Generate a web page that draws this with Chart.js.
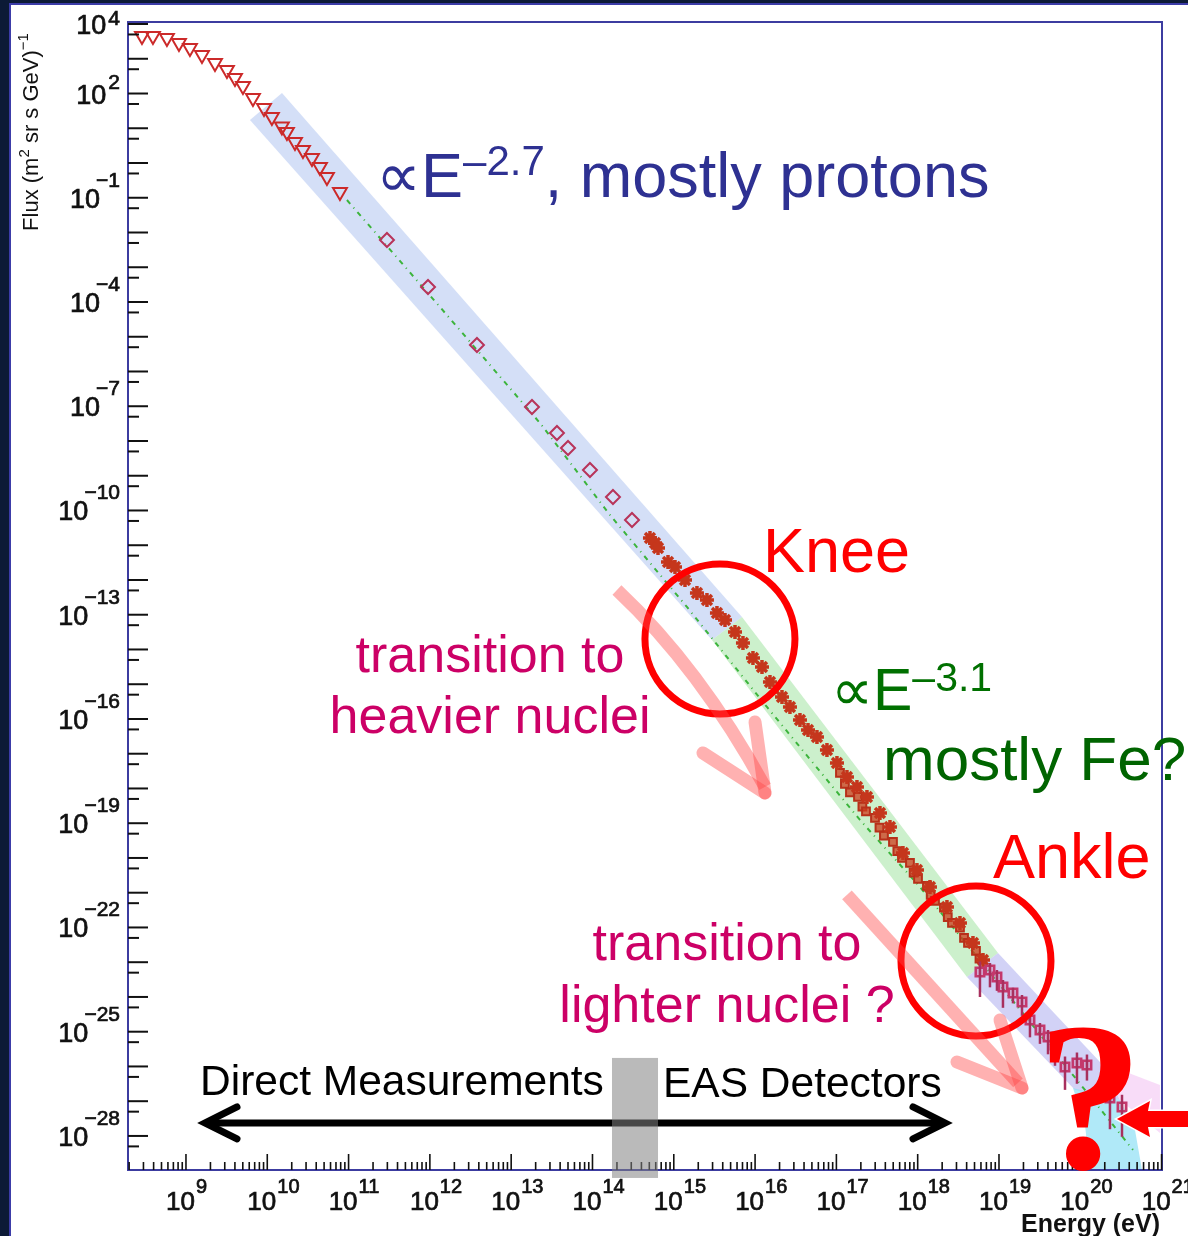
<!DOCTYPE html>
<html lang="en">
<head>
<meta charset="UTF-8">
<title>Cosmic ray energy spectrum</title>
<script src="https://cdn.jsdelivr.net/npm/chart.js"></script>
<style>
    html, body { margin: 0; padding: 0; }
    body { width: 1188px; height: 1236px; background: #0c1a36; position: relative; overflow: hidden; }
    #panel { position: absolute; left: 9px; top: 3px; right: 0; bottom: 0; background: #fff;
             border-left: 2px solid #3c3ca8; border-top: 2px solid #3c3ca8; }
    #chart { position: absolute; left: 0; top: 0; }
</style>
</head>
<body>
<div id="panel"></div>
<canvas id="chart" width="1188" height="1236"></canvas>
<script>
    // values are log10: E in eV, flux in (m^2 sr s GeV)^-1
    const triLogE = [8.459, 8.594, 8.766, 8.914, 9.049, 9.197, 9.357, 9.504, 9.603, 9.701, 9.824, 9.960, 10.057, 10.180, 10.242, 10.341, 10.439, 10.550, 10.648, 10.734, 10.894];
    const triLogF = [3.655, 3.655, 3.597, 3.453, 3.309, 3.108, 2.878, 2.676, 2.446, 2.216, 1.871, 1.583, 1.324, 1.050, 0.892, 0.604, 0.374, 0.144, -0.115, -0.403, -0.835];

    const diaLogE = [11.472, 11.977, 12.579, 13.256, 13.563, 13.699, 13.969, 14.252, 14.486];
    const diaLogF = [-2.216, -3.568, -5.237, -7.022, -7.770, -8.201, -8.835, -9.612, -10.273];

    const starLogE = [14.707, 14.769, 14.806, 14.929, 15.015, 15.138, 15.285, 15.408, 15.531, 15.630, 15.753, 15.851, 15.974, 16.085, 16.183, 16.331, 16.429, 16.552, 16.651, 16.761, 16.884, 17.007, 17.130, 17.253, 17.376, 17.536, 17.659, 17.819, 17.991, 18.151, 18.360, 18.520, 18.680, 18.803];
    const starLogF = [-10.791, -10.935, -11.079, -11.482, -11.626, -12.000, -12.374, -12.576, -12.950, -13.151, -13.496, -13.813, -14.245, -14.504, -14.935, -15.367, -15.655, -16.029, -16.317, -16.518, -16.892, -17.266, -17.669, -17.957, -18.245, -18.705, -19.108, -19.856, -20.345, -20.835, -21.410, -21.871, -22.446, -22.935];

    const boxLogE = [17.044, 17.105, 17.167, 17.266, 17.320, 17.364, 17.475, 17.530, 17.585, 17.696, 17.750, 17.807, 17.905, 17.950, 18.004, 18.114, 18.160, 18.213, 18.323, 18.370, 18.422, 18.520, 18.570, 18.619, 18.717, 18.760];
    const boxLogF = [-17.554, -17.870, -18.115, -18.245, -18.520, -18.662, -18.849, -19.130, -19.355, -19.540, -19.800, -19.994, -20.144, -20.420, -20.604, -20.806, -21.060, -21.237, -21.430, -21.700, -21.871, -22.003, -22.300, -22.446, -22.676, -22.900];

    const ankleLogE = [18.766, 18.889, 18.975, 19.049, 19.172, 19.283, 19.381, 19.504, 19.603, 19.689, 19.812, 19.959, 20.082, 20.365, 20.513];
    const ankleLogF = [-23.281, -23.223, -23.424, -23.712, -23.885, -24.144, -24.662, -24.950, -25.151, -25.381, -26.014, -25.899, -25.957, -26.906, -27.165];
    const ankleErrLo = [0.72, 0.5, 0.4, 0.6, 0.3, 0.4, 0.5, 0.4, 0.5, 0.6, 0.66, 0.6, 0.45, 0.9, 0.86];
    const ankleErrHi = [0.3, 0.2, 0.2, 0.2, 0.15, 0.2, 0.2, 0.2, 0.2, 0.25, 0.3, 0.3, 0.3, 0.4, 0.35];

    const fitLogE = [10.980, 12.124, 13.354, 14.215, 15.162, 16.146, 17.290, 18.028, 19.012, 19.959, 20.648];
    const fitLogF = [-1.065, -4.144, -7.482, -10.129, -12.777, -15.655, -18.906, -20.835, -23.655, -26.388, -28.403];

    // tick labels
    const xLabelExps = [9, 10, 11, 12, 13, 14, 15, 16, 17, 18, 19, 20, 21];
    const yLabelExps = [4, 2, -1, -4, -7, -10, -13, -16, -19, -22, -25, -28];

    // shaded regions (log E, log F corners)
    const bands = [
        { logE: [10.181, 9.787, 15.470, 15.839], logF: [2.014, 1.237, -13.727, -13.065], color: 'rgba(176,196,240,0.55)' },
        { logE: [15.470, 15.839, 18.988, 18.606], logF: [-13.727, -13.065, -22.734, -23.424], color: 'rgba(170,230,170,0.6)' },
        { logE: [18.606, 18.988, 20.242, 20.488, 19.935], logF: [-23.424, -22.734, -25.870, -26.964, -26.676], color: 'rgba(180,180,240,0.6)' },
        { logE: [20.242, 20.980, 20.980, 20.488], logF: [-25.870, -26.532, -27.914, -26.964], color: 'rgba(245,205,245,0.7)' },
        { logE: [19.910, 20.488, 20.673, 20.759, 20.119, 20.058], logF: [-26.619, -26.964, -27.827, -28.978, -28.978, -27.683], color: 'rgba(150,225,245,0.75)' }
    ];

    const kneeAt = [15.568, -13.698];
    const ankleAt = [18.717, -22.964];

    const toPts = (xs, ys) => xs.map((e, i) => ({ x: 10 ** e, y: 10 ** ys[i] }));

    function runs(ctx, x, y, parts, color) {
        ctx.fillStyle = color;
        ctx.textAlign = 'left';
        ctx.textBaseline = 'alphabetic';
        parts.forEach(([t, font, dy]) => {
            ctx.font = font;
            ctx.fillText(t, x, y + (dy || 0));
            x += ctx.measureText(t).width;
        });
        return x;
    }

    function line(ctx, pts, width, color, cap) {
        ctx.beginPath();
        pts.forEach(([px, py], i) => i ? ctx.lineTo(px, py) : ctx.moveTo(px, py));
        ctx.lineWidth = width;
        ctx.strokeStyle = color;
        ctx.lineCap = cap || 'butt';
        ctx.lineJoin = 'miter';
        ctx.stroke();
    }

    // slightly heavy text, like the old bitmap axis font
    function heavy(ctx, t, px, py) {
        ctx.fillText(t, px, py);
        ctx.strokeText(t, px, py);
    }

    const decor = {
        id: 'decor',
        beforeDatasetsDraw(chart) {
            const { ctx, chartArea: a, scales: { x, y } } = chart;
            ctx.save();
            ctx.beginPath();
            ctx.rect(a.left, a.top, a.right - a.left, a.bottom - a.top);
            ctx.clip();
            bands.forEach(b => {
                ctx.beginPath();
                b.logE.forEach((e, i) => {
                    const px = x.getPixelForValue(10 ** e), py = y.getPixelForValue(10 ** b.logF[i]);
                    i ? ctx.lineTo(px, py) : ctx.moveTo(px, py);
                });
                ctx.closePath();
                ctx.fillStyle = b.color;
                ctx.fill();
            });
            ctx.restore();
        },
        afterDatasetsDraw(chart) {
            const { ctx, scales: { x, y } } = chart;
            // error bars on the highest energy points
            ctx.save();
            ankleLogE.forEach((e, i) => {
                const px = x.getPixelForValue(10 ** e);
                line(ctx, [[px, y.getPixelForValue(10 ** (ankleLogF[i] + ankleErrHi[i]))],
                           [px, y.getPixelForValue(10 ** (ankleLogF[i] - ankleErrLo[i]))]], 2.5, '#a8305e');
            });
            ctx.restore();
        },
        afterDraw(chart) {
            const { ctx, chartArea: a, scales: { x, y } } = chart;
            const P = (le, lf) => [x.getPixelForValue(10 ** le), y.getPixelForValue(10 ** lf)];
            ctx.save();

            // frame
            ctx.strokeStyle = '#3c3ca0';
            ctx.lineWidth = 2;
            ctx.strokeRect(a.left, a.top, a.right - a.left, a.bottom - a.top);

            // y ticks (inside, decade + half)
            for (let n = 4; n >= -29; n--) {
                [[n, 20], [n - Math.log10(2), 11]].forEach(([v, len]) => {
                    const py = y.getPixelForValue(10 ** v);
                    if (py < a.top - 0.5 || py > a.bottom - 1) return;
                    line(ctx, [[a.left, py], [a.left + len, py]], 2, '#111');
                });
            }
            // x ticks (inside, log minor)
            for (let n = 8; n <= 21; n++) {
                for (let m = 1; m <= 9; m++) {
                    const v = m * 10 ** n;
                    if (v < x.min || v > x.max * 1.0001) continue;
                    const px = x.getPixelForValue(v);
                    line(ctx, [[px, a.bottom], [px, a.bottom - (m === 1 ? 16 : 8)]], 1.6, '#111');
                }
            }

            // tick labels
            ctx.fillStyle = '#111';
            ctx.strokeStyle = '#111';
            ctx.lineWidth = 0.7;
            ctx.textBaseline = 'alphabetic';
            yLabelExps.forEach(n => {
                const py = y.getPixelForValue(10 ** n);
                const ex = n < 0 ? '\u2212' + (-n) : String(n);
                ctx.font = '21px "Liberation Sans", Arial, sans-serif';
                ctx.textAlign = 'right';
                const w = ctx.measureText(ex).width;
                heavy(ctx, ex, 120, n < 0 ? py - 11 : Math.max(25, py - 5));
                ctx.font = '27px "Liberation Sans", Arial, sans-serif';
                heavy(ctx, '10', 120 - w + (n < 0 ? 4 : -2), py + 10);
            });
            xLabelExps.forEach(n => {
                const px = x.getPixelForValue(10 ** n);
                ctx.font = '26px "Liberation Sans", Arial, sans-serif';
                ctx.textAlign = 'right';
                heavy(ctx, '10', px + 9, 1210);
                ctx.font = '20px "Liberation Sans", Arial, sans-serif';
                ctx.textAlign = 'left';
                heavy(ctx, String(n), px + 10, 1193);
            });

            // axis titles
            ctx.save();
            ctx.translate(38, 132);
            ctx.rotate(-Math.PI / 2);
            const f1 = '22px "Liberation Sans", Arial, sans-serif', f2 = '15px "Liberation Sans", Arial, sans-serif';
            const tparts = [['Flux (m', f1], ['2', f2, -9], [' sr s GeV)', f1], ['\u22121', f2, -10]];
            let tw = 0;
            tparts.forEach(([t, f]) => { ctx.font = f; tw += ctx.measureText(t).width; });
            runs(ctx, -tw / 2, 0, tparts, '#111');
            ctx.restore();

            ctx.font = 'bold 25px "Liberation Sans", Arial, sans-serif';
            ctx.textAlign = 'right';
            ctx.fillStyle = '#111';
            ctx.fillText('Energy (eV)', 1160, 1232);

            // knee / ankle circles
            [kneeAt, ankleAt].forEach(([le, lf]) => {
                const [cx, cy] = P(le, lf);
                ctx.beginPath();
                ctx.arc(cx, cy, 75, 0, Math.PI * 2);
                ctx.lineWidth = 7;
                ctx.strokeStyle = '#ff0000';
                ctx.stroke();
            });

            // pink transition arrows
            const pink = 'rgba(255,70,70,0.42)';
            const s1 = P(14.301, -12.288), c1 = P(15.322, -14.532), t1 = P(16.122, -18.129);
            ctx.beginPath();
            ctx.moveTo(s1[0], s1[1]);
            ctx.quadraticCurveTo(c1[0], c1[1], t1[0], t1[1] - 6);
            ctx.lineWidth = 13;
            ctx.strokeStyle = pink;
            ctx.lineCap = 'butt';
            ctx.stroke();
            line(ctx, [P(15.359, -16.978), t1], 13, pink, 'round');
            line(ctx, [P(15.999, -16.086), t1], 13, pink, 'round');

            const s2 = P(17.130, -21.065), t2 = P(19.283, -26.619);
            line(ctx, [s2, [t2[0] - 4, t2[1] - 5]], 13, pink);
            line(ctx, [P(18.483, -25.870), t2], 13, pink, 'round');
            line(ctx, [P(19.012, -24.662), t2], 13, pink, 'round');

            // annotation texts
            const sans = px => px + 'px "Liberation Sans", Arial, sans-serif';
            runs(ctx, 376, 197, [['\u221DE', sans(63)], ['\u20132.7', sans(42), -22], [', mostly protons', sans(63)]], '#2e3192');
            runs(ctx, 763, 572, [['Knee', sans(63)]], '#ff0000');
            runs(ctx, 993, 878, [['Ankle', sans(63)]], '#ff0000');
            runs(ctx, 831, 710, [['\u221DE', sans(59)], ['\u20133.1', sans(41), -19]], '#007000');
            runs(ctx, 883, 780, [['mostly Fe?', sans(62)]], '#006400');

            ctx.font = sans(52);
            ctx.fillStyle = '#cc0066';
            ctx.textAlign = 'center';
            ctx.fillText('transition to', 490, 672);
            ctx.fillText('heavier nuclei', 490, 733);
            ctx.fillText('transition to', 727, 960);
            ctx.fillText('lighter nuclei ?', 727, 1022);

            // direct vs air-shower measurements
            runs(ctx, 200, 1095, [['Direct Measurements', sans(42.5)]], '#000');
            runs(ctx, 663, 1097, [['EAS Detectors', sans(42.5)]], '#000');
            const l = P(9.234, -27.626), r = P(18.336, -27.626);
            line(ctx, [l, r], 7, '#000');
            line(ctx, [[l[0] + 32, l[1] - 16], l, [l[0] + 32, l[1] + 16]], 7, '#000', 'round');
            line(ctx, [[r[0] - 32, r[1] - 16], r, [r[0] - 32, r[1] + 16]], 7, '#000', 'round');
            const g0 = P(14.240, -25.755), g1 = P(14.806, -29.209);
            ctx.fillStyle = 'rgba(130,130,130,0.55)';
            ctx.fillRect(g0[0], g0[1], g1[0] - g0[0], g1[1] - g0[1]);

            // big question mark and the red arrow at the end of the spectrum
            ctx.font = 'bold 212px "Liberation Serif", "Times New Roman", serif';
            ctx.fillStyle = '#ff0000';
            ctx.textAlign = 'center';
            ctx.fillText('?', 1090, 1168);

            const tip = P(20.451, -27.511), hb = P(20.857, -26.993), hc = P(20.857, -28.029);
            const sa = P(20.857, -27.281), sb = P(21.472, -27.741);
            ctx.beginPath();
            ctx.moveTo(tip[0], tip[1]);
            ctx.lineTo(hb[0], hb[1]);
            ctx.lineTo(hb[0] - 2, sa[1]);
            ctx.lineTo(sb[0], sa[1]);
            ctx.lineTo(sb[0], sb[1]);
            ctx.lineTo(hc[0] - 2, sb[1]);
            ctx.lineTo(hc[0], hc[1]);
            ctx.closePath();
            ctx.lineWidth = 3;
            ctx.strokeStyle = '#fff';
            ctx.stroke();
            ctx.fillStyle = '#ff0000';
            ctx.fill();

            ctx.restore();
        }
    };

    const ctx = document.getElementById('chart').getContext('2d');
    window.spectrumChart = new Chart(ctx, {
        type: 'scatter',
        data: {
            datasets: [
                {
                    label: 'Ankle region',
                    data: toPts(ankleLogE, ankleLogF),
                    pointStyle: 'rect', radius: 6, borderWidth: 2.5,
                    borderColor: '#c4386c', backgroundColor: 'rgba(210,90,140,0.35)'
                },
                {
                    label: 'Air showers',
                    data: toPts(starLogE, starLogF),
                    pointStyle: 'star', radius: 7, borderWidth: 3.5,
                    borderColor: '#c5361c', backgroundColor: '#c5361c'
                },
                {
                    label: 'Air showers (2)',
                    data: toPts(boxLogE, boxLogF),
                    pointStyle: 'rect', radius: 5.5, borderWidth: 2,
                    borderColor: '#b8301a', backgroundColor: 'rgba(205,60,30,0.75)'
                },
                {
                    label: 'Direct (high E)',
                    data: toPts(diaLogE, diaLogF),
                    pointStyle: 'rectRot', radius: 7, borderWidth: 2,
                    borderColor: '#b8345a', backgroundColor: 'rgba(0,0,0,0)'
                },
                {
                    label: 'Direct (low E)',
                    data: toPts(triLogE, triLogF),
                    pointStyle: 'triangle', rotation: 180, radius: 8, borderWidth: 2,
                    borderColor: '#cc2a2a', backgroundColor: 'rgba(0,0,0,0)'
                },
                {
                    label: 'Power-law fit',
                    data: toPts(fitLogE, fitLogF),
                    showLine: true, pointRadius: 0,
                    borderColor: '#3cb43c', borderWidth: 2, borderDash: [5, 5, 1, 5]
                }
            ]
        },
        options: {
            responsive: false,
            animation: false,
            devicePixelRatio: 1,
            layout: { padding: { left: 128, top: 22, right: 26, bottom: 66 } },
            plugins: { legend: { display: false }, tooltip: { enabled: false } },
            scales: {
                x: { type: 'logarithmic', min: 10 ** 8.287, max: 10 ** 21.005, display: false },
                y: { type: 'logarithmic', min: 10 ** -28.98, max: 10 ** 4.058, display: false }
            }
        },
        plugins: [decor]
    });
</script>
</body>
</html>
